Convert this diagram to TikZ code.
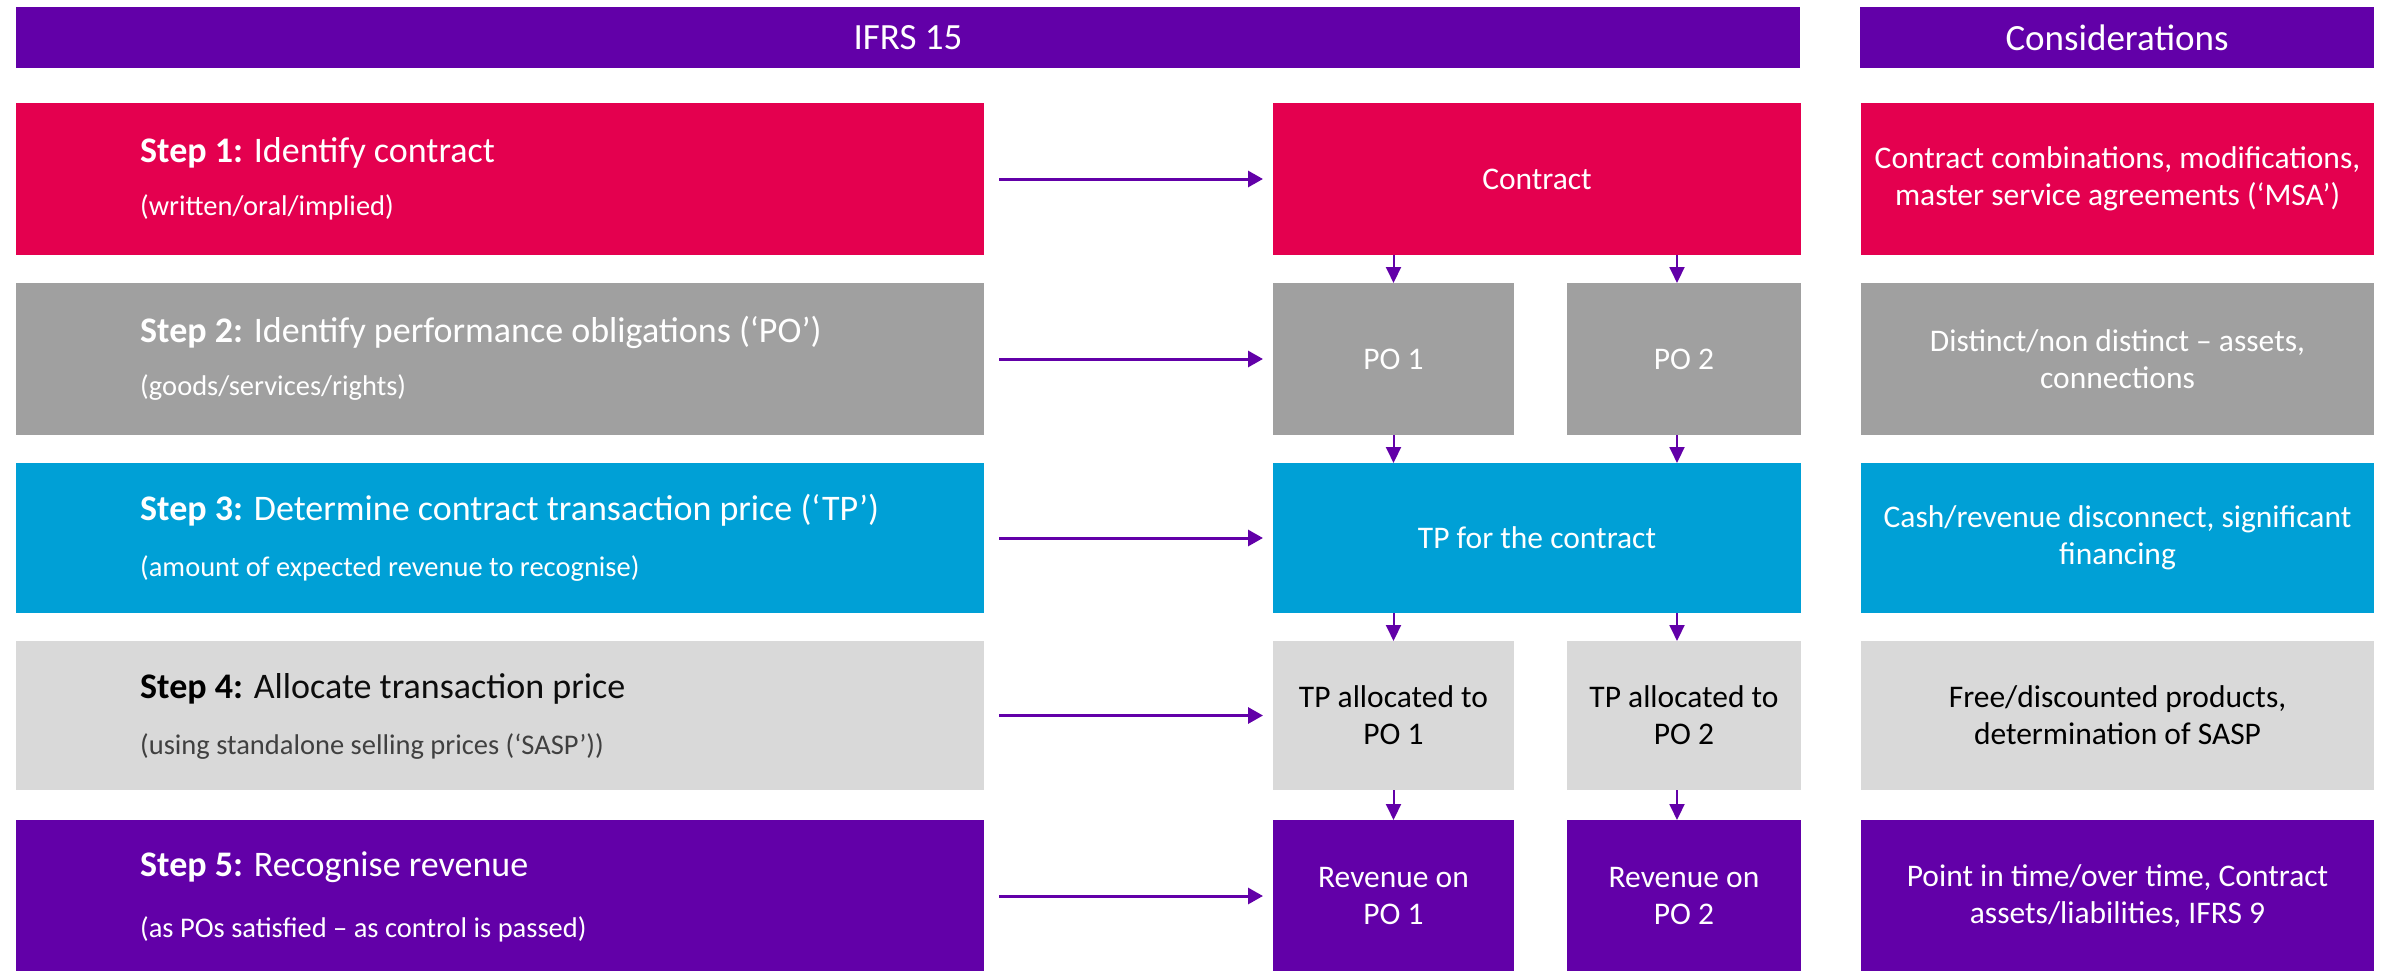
\documentclass[tikz,border=0pt]{standalone}
\usepackage{fontspec}
\setmainfont{Carlito}
\usetikzlibrary{arrows.meta}
\definecolor{hpurple}{RGB}{98,0,168}
\definecolor{hred}{RGB}{228,0,79}
\definecolor{hgray}{RGB}{160,160,160}
\definecolor{hblue}{RGB}{0,160,214}
\definecolor{hlight}{RGB}{217,217,217}
\definecolor{hdark}{RGB}{13,13,13}
\definecolor{hsub}{RGB}{64,64,64}
\tikzset{
  box/.style={draw=none, rectangle, inner sep=0pt, outer sep=0pt},
  hdr/.style={box, fill=hpurple, text=white, minimum height=61pt, font=\fontsize{37}{40}\selectfont},
  midtext/.style={box, align=center, font=\fontsize{31.5}{37}\selectfont},
  steptitle/.style={anchor=base west, inner sep=0pt, font=\fontsize{36}{40}\selectfont},
  stepsub/.style={anchor=base west, inner sep=0pt, font=\fontsize{28.5}{32}\selectfont},
  harrow/.style={draw=hpurple, line width=3pt, -{Triangle[length=15pt,width=16pt]}, shorten <=15pt, shorten >=10pt},
  varrow/.style={draw=hpurple, line width=2pt, -{Triangle[length=16pt,width=15pt]}},
  leftshift/.style={xshift=-7pt}
}
\begin{document}
\begin{tikzpicture}[x=1pt,y=-1pt]
\useasboundingbox (0,0) rectangle (2384,971);
% headers
\node[hdr, minimum width=1784pt] (h1) at (908,37.5) {IFRS 15};
\node[hdr, minimum width=514pt] (h2) at (2117,37.5) {Considerations};
% row 1
\node[box, fill=hred, minimum width=968pt, minimum height=152pt] (s1) at (500,179) {};
\node[steptitle, text=white] (s1t) at (140,162) {\textbf{Step 1:} Identify contract};
\node[stepsub, text=white] (s1s) at (140,215) {(written/oral/implied)};
\node[midtext, fill=hred, text=white, minimum width=528pt, minimum height=152pt] (c1) at (1537,179) {Contract};
\node[midtext, fill=hred, text=white, minimum width=513pt, minimum height=152pt] (k1) at (2117.5,179) {Contract combinations, modifications,\\master service agreements (‘MSA’)};
% row 2
\node[box, fill=hgray, minimum width=968pt, minimum height=152pt] (s2) at (500,359) {};
\node[steptitle, text=white] (s2t) at (140,342) {\textbf{Step 2:} Identify performance obligations (‘PO’)};
\node[stepsub, text=white] (s2s) at (140,395) {(goods/services/rights)};
\node[midtext, fill=hgray, text=white, minimum width=241pt, minimum height=152pt] (p21) at (1393.5,359) {PO 1};
\node[midtext, fill=hgray, text=white, minimum width=234pt, minimum height=152pt] (p22) at (1684,359) {PO 2};
\node[midtext, fill=hgray, text=white, minimum width=513pt, minimum height=152pt] (k2) at (2117.5,359) {Distinct/non distinct -- assets,\\connections};
% row 3
\node[box, fill=hblue, minimum width=968pt, minimum height=150pt] (s3) at (500,538) {};
\node[steptitle, text=white] (s3t) at (140,520) {\textbf{Step 3:} Determine contract transaction price (‘TP’)};
\node[stepsub, text=white] (s3s) at (140,576) {(amount of expected revenue to recognise)};
\node[midtext, fill=hblue, text=white, minimum width=528pt, minimum height=150pt] (c3) at (1537,538) {TP for the contract};
\node[midtext, fill=hblue, text=white, minimum width=513pt, minimum height=150pt] (k3) at (2117.5,538) {Cash/revenue disconnect, significant\\financing};
% row 4
\node[box, fill=hlight, minimum width=968pt, minimum height=149pt] (s4) at (500,715.5) {};
\node[steptitle, text=hdark] (s4t) at (140,698) {\textbf{\color{black}Step 4:} Allocate transaction price};
\node[stepsub, text=hsub] (s4s) at (140,754) {(using standalone selling prices (‘SASP’))};
\node[midtext, fill=hlight, text=black, minimum width=241pt, minimum height=149pt] (p41) at (1393.5,715.5) {TP allocated to\\PO 1};
\node[midtext, fill=hlight, text=black, minimum width=234pt, minimum height=149pt] (p42) at (1684,715.5) {TP allocated to\\PO 2};
\node[midtext, fill=hlight, text=black, minimum width=513pt, minimum height=149pt] (k4) at (2117.5,715.5) {Free/discounted products,\\determination of SASP};
% row 5
\node[box, fill=hpurple, minimum width=968pt, minimum height=152pt] (s5) at (500,896) {};
\node[steptitle, text=white] (s5t) at (140,876) {\textbf{Step 5:} Recognise revenue};
\node[stepsub, text=white] (s5s) at (140,937) {(as POs satisfied -- as control is passed)};
\node[midtext, fill=hpurple, text=white, minimum width=241pt, minimum height=152pt] (p51) at (1393.5,896) {Revenue on\\PO 1};
\node[midtext, fill=hpurple, text=white, minimum width=234pt, minimum height=152pt] (p52) at (1684,896) {Revenue on\\PO 2};
\node[midtext, fill=hpurple, text=white, minimum width=513pt, minimum height=152pt] (k5) at (2117.5,896) {Point in time/over time, Contract\\assets/liabilities, IFRS 9};
% horizontal arrows
\draw[harrow] (s1.east) -- (c1.west);
\draw[harrow] (s2.east) -- (p21.west);
\draw[harrow] (s3.east) -- (c3.west);
\draw[harrow] (s4.east) -- (p41.west);
\draw[harrow] (s5.east |- p51.west) -- (p51.west);
% vertical arrows
\draw[varrow] (c1.south -| p21.north) -- (p21.north);
\draw[varrow] ([leftshift]c1.south -| p22.north) -- ([leftshift]p22.north);
\draw[varrow] (p21.south) -- (p21.south |- c3.north);
\draw[varrow] ([leftshift]p22.south) -- ([leftshift]p22.south |- c3.north);
\draw[varrow] (c3.south -| p41.north) -- (p41.north);
\draw[varrow] ([leftshift]c3.south -| p42.north) -- ([leftshift]p42.north);
\draw[varrow] (p41.south) -- (p51.north);
\draw[varrow] ([leftshift]p42.south) -- ([leftshift]p52.north);
\end{tikzpicture}
\end{document}
